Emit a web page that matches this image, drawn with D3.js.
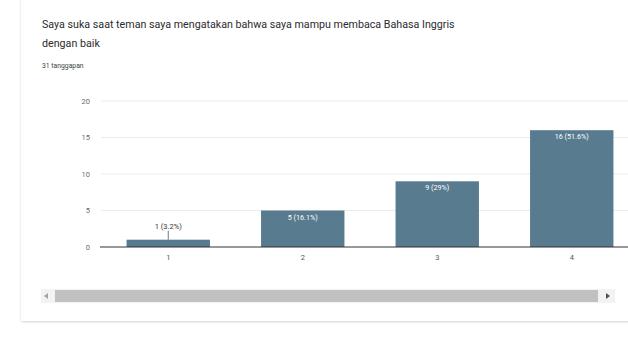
<!DOCTYPE html>
<html>
<head>
<meta charset="utf-8">
<script src="https://cdn.jsdelivr.net/npm/d3@7"></script>
<style>
  html, body { margin: 0; padding: 0; background: #ffffff; overflow: hidden; }
  svg { display: block; font-family: Roboto, "Noto Sans", Arial, sans-serif; }
</style>
</head>
<body>
<svg id="chart" width="628" height="338"></svg>
<script>
// Survey question and response count
const titleLines = [
  "Saya suka saat teman saya mengatakan bahwa saya mampu membaca Bahasa Inggris",
  "dengan baik"
];
const responseLabel = "31 tanggapan";

// Answer options (scale 1–4) and number of responses for each
const categories = ["1", "2", "3", "4"];
const counts = [1, 5, 9, 16];
const yTicks = [0, 5, 10, 15, 20];

const total = d3.sum(counts);
const pctLabel = v => `${v} (${Math.round(v / total * 1000) / 10}%)`;

const svg = d3.select("#chart");
const W = 628, H = 338;

// Card with soft shadow
const defs = svg.append("defs");
const f = defs.append("filter").attr("id", "shadow")
  .attr("x", "-5%").attr("y", "-5%").attr("width", "110%").attr("height", "115%");
f.append("feDropShadow").attr("dx", 0).attr("dy", 1).attr("stdDeviation", 1.3)
  .attr("flood-color", "#000").attr("flood-opacity", 0.18);

svg.append("rect").attr("width", W).attr("height", H).attr("fill", "#ffffff");
svg.append("rect")
  .attr("x", 21).attr("y", -10).attr("width", W + 20).attr("height", 331)
  .attr("rx", 2).attr("fill", "#ffffff").attr("filter", "url(#shadow)");

// Title
svg.append("g").selectAll("text").data(titleLines).join("text")
  .attr("x", 42).attr("y", (d, i) => 28 + i * 19)
  .attr("font-size", 10.7).attr("fill", "#2b2b2e")
  .text(d => d);

svg.append("text")
  .attr("x", 42).attr("y", 68)
  .attr("font-size", 6.8).attr("fill", "#3c4043")
  .text(responseLabel);

// Scales
const x = d3.scaleBand().domain(categories)
  .range([101, 639]).paddingInner(0.38).paddingOuter(0.19);
const y = d3.scaleLinear().domain([0, 20]).range([247, 101]);

// Horizontal gridlines
svg.append("g").selectAll("line").data(yTicks.filter(t => t > 0)).join("line")
  .attr("x1", 101).attr("x2", W).attr("y1", d => y(d)).attr("y2", d => y(d))
  .attr("stroke", "#ebebeb").attr("stroke-width", 1);

// Y axis labels
const yAxis = svg.append("g").attr("transform", "translate(92,0)")
  .call(d3.axisLeft(y).tickValues(yTicks).tickSize(0).tickPadding(2));
yAxis.select(".domain").remove();
yAxis.selectAll("text").attr("font-size", 7.5).attr("fill", "#6b6b6b")
  .attr("font-family", "Roboto, sans-serif");

// Bars
const barColor = "#587b8f";
const bars = svg.append("g").selectAll("g").data(categories.map((c, i) => ({ c, v: counts[i] })))
  .join("g");
bars.append("rect")
  .attr("x", d => x(d.c)).attr("width", x.bandwidth())
  .attr("y", d => y(d.v)).attr("height", d => y(0) - y(d.v))
  .attr("fill", barColor);

// Value labels: inside the bar when there is room, otherwise above with a leader
bars.each(function (d) {
  const g = d3.select(this);
  const cx = x(d.c) + x.bandwidth() / 2;
  const h = y(0) - y(d.v);
  if (h >= 14) {
    g.append("text").attr("x", cx).attr("y", y(d.v) + 9)
      .attr("text-anchor", "middle").attr("font-size", 7.2).attr("fill", "#ffffff")
      .text(pctLabel(d.v));
  } else {
    g.append("line").attr("x1", cx).attr("x2", cx)
      .attr("y1", y(d.v) - 9).attr("y2", y(d.v))
      .attr("stroke", "#555").attr("stroke-width", 0.8);
    g.append("text").attr("x", cx).attr("y", y(d.v) - 11)
      .attr("text-anchor", "middle").attr("font-size", 7.5).attr("fill", "#333")
      .text(pctLabel(d.v));
  }
});

// Baseline and category labels
svg.append("line").attr("x1", 100).attr("x2", W)
  .attr("y1", y(0)).attr("y2", y(0))
  .attr("stroke", "#333").attr("stroke-width", 1);

const xAxis = svg.append("g").attr("transform", `translate(0,${y(0)})`)
  .call(d3.axisBottom(x).tickSize(0).tickPadding(8));
xAxis.select(".domain").remove();
xAxis.selectAll("text").attr("font-size", 7.5).attr("fill", "#555")
  .attr("font-family", "Roboto, sans-serif");

// Horizontal scrollbar under the chart
const sb = svg.append("g");
sb.append("rect").attr("x", 41).attr("y", 289).attr("width", 574).attr("height", 14)
  .attr("fill", "#f3f3f3");
sb.append("rect").attr("x", 55).attr("y", 290).attr("width", 543).attr("height", 12)
  .attr("fill", "#c1c1c1");
sb.append("path").attr("d", "M44,296 L48,293 L48,299 Z").attr("fill", "#a3a3a3");
sb.append("path").attr("d", "M610,296 L606,293 L606,299 Z").attr("fill", "#505050");
</script>
</body>
</html>
